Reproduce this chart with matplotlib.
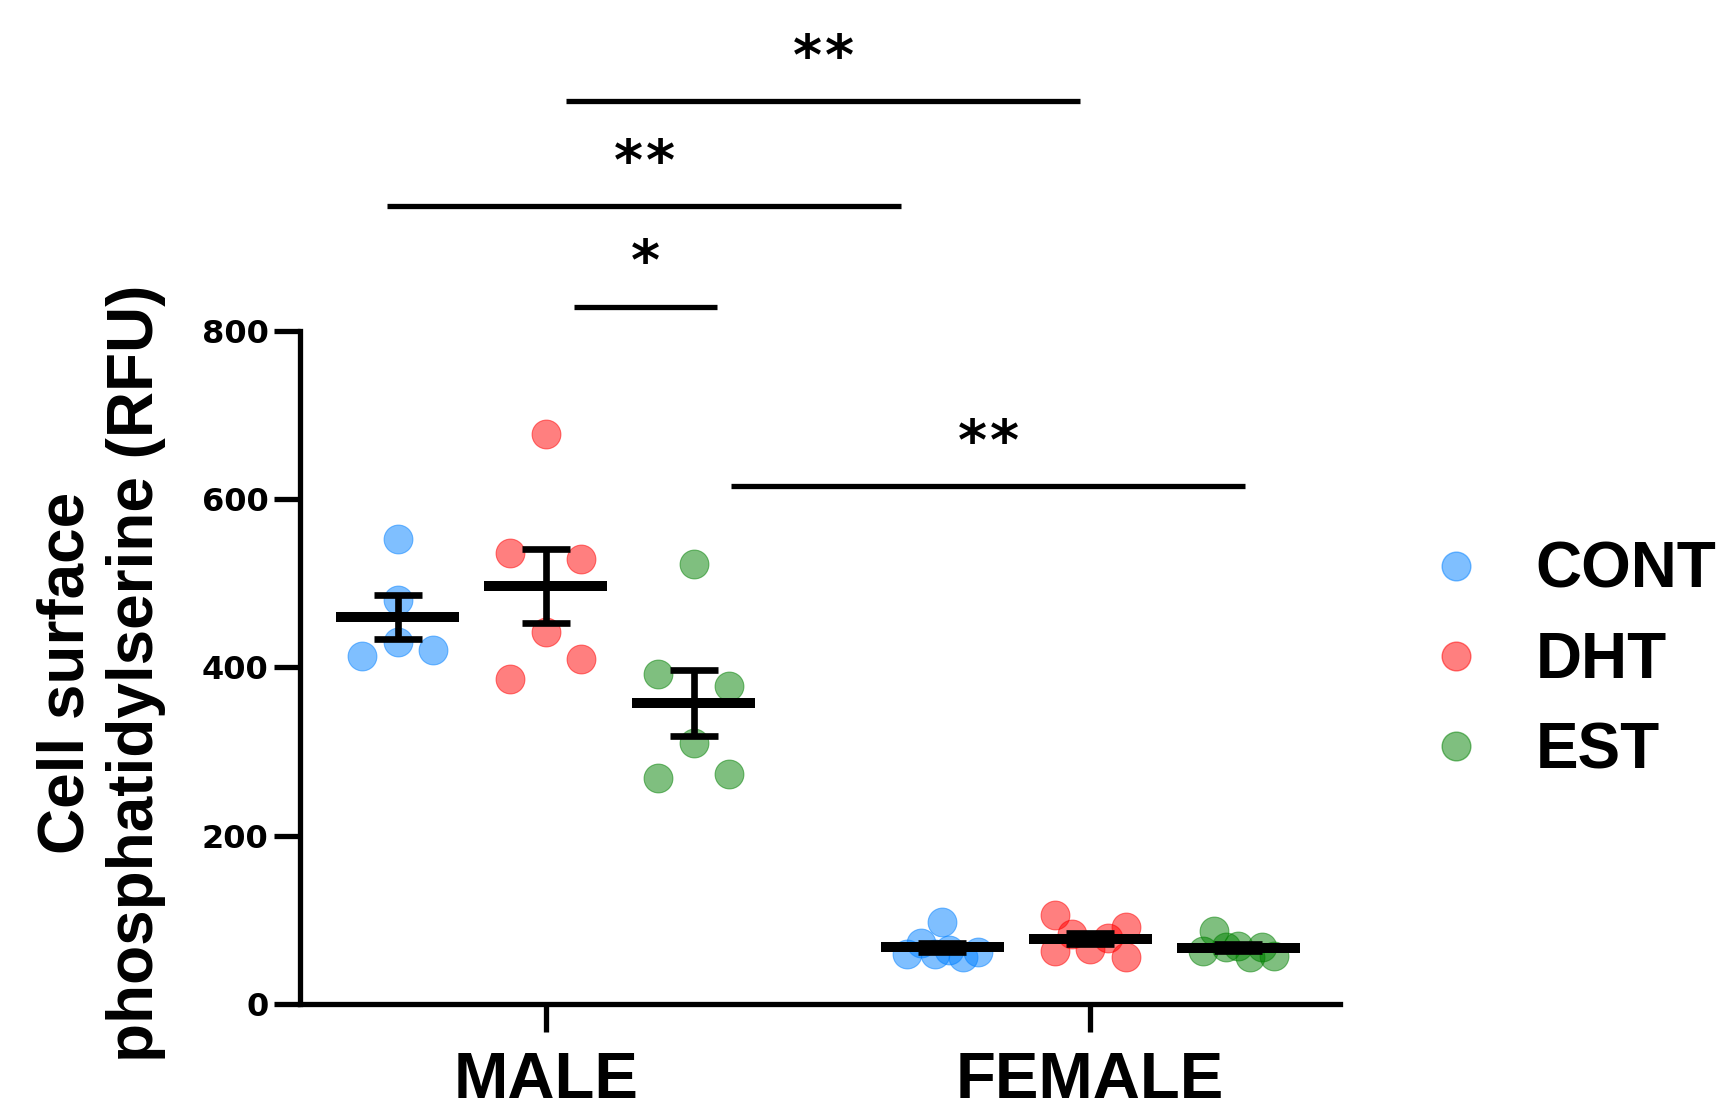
#! /usr/bin/env python

# Cell surface phosphatidylserine, male vs female, three treatments
import numpy as np
import matplotlib
matplotlib.use("Agg")
import matplotlib.pyplot as plt
from matplotlib.lines import Line2D

# Data (RFU)
sexes = ["MALE", "FEMALE"]
treatments = ["CONT", "DHT", "EST"]
colors = ["#0080FF", "#FF0000", "#008000"]

male_cont = [553, 480, 414, 430, 421]
male_dht = [677, 536, 529, 442, 386, 410]
male_est = [523, 392, 378, 310, 269, 273]
female_cont = [98, 59, 73, 59, 64, 56, 62]
female_dht = [106, 63, 83, 65, 79, 92, 56]
female_est = [63, 87, 68, 69, 56, 68, 57]

# significance bars: (x start, x end, height, number of stars)
sig_x0 = [0.037, -0.292, 0.051, 0.341]
sig_x1 = [0.982, 0.653, 0.314, 1.284]
sig_y = [1073, 948, 829, 616]
sig_stars = [2, 2, 1, 2]


def SwarmOffsets(vals, half_width, row_gap):
    # points of similar value share a row and get spread evenly
    vals = np.asarray(vals, dtype=float)
    order = np.argsort(vals, kind="stable")
    rows = []
    for i in order:
        if rows and vals[i] - vals[rows[-1][0]] <= row_gap:
            rows[-1].append(i)
        else:
            rows.append([i])
    off = np.zeros(len(vals))
    for r in rows:
        r = sorted(r)
        if len(r) > 1:
            off[r] = np.linspace(-half_width, half_width, len(r))
    return off


groups = [[male_cont, male_dht, male_est], [female_cont, female_dht, female_est]]
shift = 0.272

fig = plt.figure(figsize=(17.3, 11.09), dpi=100)
ax = fig.add_axes([0.1734, 0.0947, 0.6014, 0.6069])

for si, sex_groups in enumerate(groups):
    for ti, vals in enumerate(sex_groups):
        xc = si + (ti - 1) * shift
        v = np.asarray(vals, dtype=float)
        off = SwarmOffsets(v, 0.0653, 34)
        ax.scatter(xc + off, v, s=430, color=colors[ti], alpha=0.5,
                   edgecolors=colors[ti], linewidths=0.8, zorder=2)
        m = v.mean()
        sem = v.std(ddof=1) / np.sqrt(len(v))
        ax.errorbar([xc], [m], yerr=[sem], fmt="none", ecolor="k",
                    elinewidth=4.8, capsize=17.6, capthick=4.8, zorder=3)
        ax.hlines(m, xc - 0.113, xc + 0.113, colors="k", lw=7.2, zorder=4)

for x0, x1, y, n in zip(sig_x0, sig_x1, sig_y, sig_stars):
    ax.plot([x0, x1], [y, y], color="k", lw=3.8, clip_on=False,
            solid_capstyle="butt")
    for k in range(n):
        ax.annotate("*", xy=((x0 + x1) / 2, y + 50),
                    xytext=((k - (n - 1) / 2) * 23, 0), textcoords="offset points",
                    ha="center", va="center", fontsize=40, fontweight="bold",
                    family="DejaVu Sans", annotation_clip=False)

ax.set_xlim(-0.452, 1.460)
ax.set_ylim(0, 800)
ax.set_yticks([0, 200, 400, 600, 800])
ax.set_xticks([0, 1])
ax.set_xticklabels(sexes, fontsize=47, fontweight="bold", family="Liberation Sans")
for lab in ax.get_yticklabels():
    lab.set_fontsize(23)
    lab.set_fontweight("bold")
    lab.set_family("DejaVu Sans")

for s in ["top", "right"]:
    ax.spines[s].set_visible(False)
for s in ["left", "bottom"]:
    ax.spines[s].set_linewidth(3.8)
ax.tick_params(axis="y", length=18.7, width=3.8, pad=4)
ax.tick_params(axis="x", length=20, width=3.8, pad=14)

fig.text(0.0584, 0.393, "Cell surface\nphosphatidylserine (RFU)", rotation=90,
         ha="center", va="center", multialignment="center", fontsize=46,
         fontweight="bold", family="Liberation Sans", linespacing=1.2)

handles = [Line2D([], [], marker="o", ls="none", markersize=20.7,
                  markerfacecolor=c, markeredgecolor=c, alpha=0.5)
           for c in colors]
fig.legend(handles, treatments, loc="center left",
           bbox_to_anchor=(1424 / 1730, 1 - 661 / 1109), frameon=False,
           borderpad=0, borderaxespad=0, handlelength=1.0, handletextpad=0.75,
           labelspacing=0.47,
           prop={"family": "Liberation Sans", "weight": "bold", "size": 46})

fig.savefig("out.png", dpi=100)
